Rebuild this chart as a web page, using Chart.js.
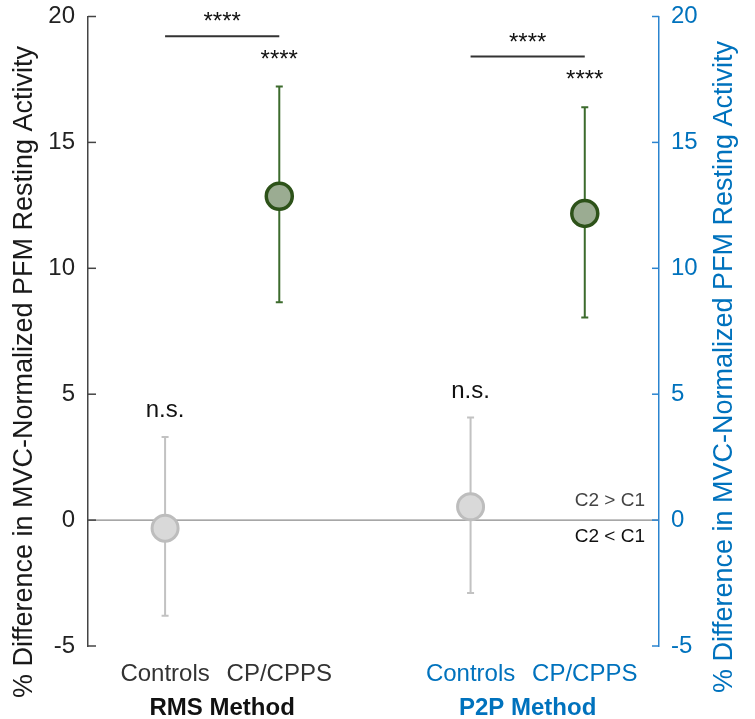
<!DOCTYPE html>
<html>
<head>
<meta charset="utf-8">
<title>PFM resting activity</title>
<script src="https://cdn.jsdelivr.net/npm/chart.js@4.4.1/dist/chart.umd.min.js"></script>
<style>
  body { margin: 0; background: #fff; }
  #wrap { width: 755px; height: 719px; }
</style>
</head>
<body>
<div id="wrap"><canvas id="chart"></canvas></div>
<script>
// data
const groups = ['Controls', 'CP/CPPS', 'Controls', 'CP/CPPS'];
const methods = ['RMS Method', 'P2P Method'];
const xPos = [0.675, 1.675, 3.35, 4.35];
const means = [-0.32, 12.86, 0.53, 12.18];
const upper = [3.3, 17.22, 4.07, 16.4];
const lower = [-3.8, 8.65, -2.9, 8.05];
const yTicks = [-5, 0, 5, 10, 15, 20];
const sigLabels = ['n.s.', '****', 'n.s.', '****'];
// comparison bars: [from point, to point, y value]
const brackets = [[0, 1, 19.22], [2, 3, 18.41]];

const FONT = "'Liberation Sans', Arial, Helvetica, sans-serif";
const BLUE = '#0072BD';
const BLUE_LINE = '#2b84cf';
const GREEN = '#2d5219';
const GREEN_BAR = '#3c6b2d';
const GRAY_BAR = '#c2c2c2';
const TITLE = '% Difference in MVC-Normalized PFM Resting Activity';

function pts(name) {
  const out = [];
  groups.forEach((g, i) => { if (g === name) out.push({ x: xPos[i], y: means[i] }); });
  return out;
}

function fixY(width) {
  return s => {
    s.width = width;
    s.paddingTop = 0;
    s.paddingBottom = 0;
  };
}

const extras = {
  id: 'extras',
  beforeDatasetsDraw(chart) {
    const c = chart.ctx, a = chart.chartArea;
    const xs = chart.scales.x, ys = chart.scales.y;
    c.save();
    // zero line
    const y0 = ys.getPixelForValue(0);
    c.strokeStyle = '#8a8a8a';
    c.lineWidth = 1.3;
    c.beginPath(); c.moveTo(a.left, y0); c.lineTo(a.right, y0); c.stroke();
    // inward tick marks
    yTicks.forEach(v => {
      const y = ys.getPixelForValue(v);
      c.strokeStyle = '#444'; c.lineWidth = 1.5;
      c.beginPath(); c.moveTo(a.left, y); c.lineTo(a.left + 8, y); c.stroke();
      c.strokeStyle = BLUE_LINE;
      c.beginPath(); c.moveTo(a.right - 7, y); c.lineTo(a.right, y); c.stroke();
    });
    // error bars
    for (let i = 0; i < means.length; i++) {
      const x = xs.getPixelForValue(xPos[i]);
      const yt = ys.getPixelForValue(upper[i]);
      const yb = ys.getPixelForValue(lower[i]);
      c.strokeStyle = groups[i] === 'CP/CPPS' ? GREEN_BAR : GRAY_BAR;
      c.lineWidth = 2;
      c.beginPath();
      c.moveTo(x, yt); c.lineTo(x, yb);
      c.moveTo(x - 3.5, yt); c.lineTo(x + 3.5, yt);
      c.moveTo(x - 3.5, yb); c.lineTo(x + 3.5, yb);
      c.stroke();
    }
    c.restore();
  },
  afterDraw(chart) {
    const c = chart.ctx, a = chart.chartArea;
    const xs = chart.scales.x, ys = chart.scales.y;
    c.save();
    // significance labels
    c.textAlign = 'center';
    c.textBaseline = 'alphabetic';
    c.fillStyle = '#111';
    c.font = '24px ' + FONT;
    for (let i = 0; i < means.length; i++) {
      const x = xs.getPixelForValue(xPos[i]);
      c.fillText(sigLabels[i], x, ys.getPixelForValue(upper[i]) - 20);
    }
    brackets.forEach(([p, q, v]) => {
      const x1 = xs.getPixelForValue(xPos[p]);
      const x2 = xs.getPixelForValue(xPos[q]);
      const y = ys.getPixelForValue(v);
      c.strokeStyle = '#333'; c.lineWidth = 2;
      c.beginPath(); c.moveTo(x1, y); c.lineTo(x2, y); c.stroke();
      c.fillText('****', (x1 + x2) / 2, y - 7);
    });
    // direction labels
    const y0 = ys.getPixelForValue(0);
    c.textAlign = 'right';
    c.font = '19px ' + FONT;
    c.fillStyle = '#444';
    c.fillText('C2 > C1', a.right - 14, y0 - 14);
    c.fillStyle = '#111';
    c.fillText('C2 < C1', a.right - 14, y0 + 22);
    // method labels
    c.textAlign = 'center';
    c.font = 'bold 24px ' + FONT;
    methods.forEach((m, k) => {
      const xm = (xs.getPixelForValue(xPos[2 * k]) + xs.getPixelForValue(xPos[2 * k + 1])) / 2;
      c.fillStyle = k === 0 ? '#111' : BLUE;
      c.fillText(m, xm, 715);
    });
    // axis titles, both reading bottom to top
    c.font = '27px ' + FONT;
    c.textBaseline = 'middle';
    [[25, 372, '#1a1a1a'], [725, 367, BLUE]].forEach(([tx, ty, col]) => {
      c.save();
      c.translate(tx, ty);
      c.rotate(-Math.PI / 2);
      c.fillStyle = col;
      c.fillText(TITLE, 0, 0);
      c.restore();
    });
    c.restore();
  }
};

const ctx = document.getElementById('chart').getContext('2d');
const chart = new Chart(ctx, {
  type: 'scatter',
  data: {
    datasets: [
      {
        label: 'Controls',
        data: pts('Controls'),
        pointRadius: 13,
        pointHoverRadius: 13,
        pointBorderWidth: 3,
        backgroundColor: '#d9d9d9',
        borderColor: '#bdbdbd'
      },
      {
        label: 'CP/CPPS',
        data: pts('CP/CPPS'),
        pointRadius: 13,
        pointHoverRadius: 13,
        pointBorderWidth: 3.5,
        backgroundColor: '#9bac92',
        borderColor: GREEN
      }
    ]
  },
  options: {
    responsive: true,
    maintainAspectRatio: false,
    animation: false,
    layout: { padding: { top: 16, left: 0, right: 0, bottom: 0 } },
    plugins: { legend: { display: false }, tooltip: { enabled: false } },
    scales: {
      x: {
        type: 'linear',
        min: 0,
        max: 5,
        position: 'bottom',
        grid: { display: false, drawTicks: false },
        border: { display: false },
        afterBuildTicks: s => { s.ticks = xPos.map(v => ({ value: v })); },
        afterFit: s => { s.height = 73; s.paddingLeft = 0; s.paddingRight = 0; },
        ticks: {
          autoSkip: false,
          maxRotation: 0,
          padding: 14,
          font: { size: 24, family: FONT },
          color: c => (c.index < 2 ? '#333' : BLUE),
          callback: (v, i) => groups[i]
        }
      },
      y: {
        position: 'left',
        min: -5,
        max: 20,
        grid: { display: false, drawTicks: false },
        border: { color: '#444', width: 1.5 },
        afterBuildTicks: s => { s.ticks = yTicks.map(v => ({ value: v })); },
        afterFit: fixY(88),
        ticks: { padding: 13, font: { size: 24, family: FONT }, color: '#222' }
      },
      y2: {
        position: 'right',
        min: -5,
        max: 20,
        grid: { display: false, drawTicks: false },
        border: { color: BLUE_LINE, width: 1.5 },
        afterBuildTicks: s => { s.ticks = yTicks.map(v => ({ value: v })); },
        afterFit: fixY(96),
        ticks: { padding: 12, font: { size: 24, family: FONT }, color: BLUE }
      }
    }
  },
  plugins: [extras]
});
</script>
</body>
</html>
